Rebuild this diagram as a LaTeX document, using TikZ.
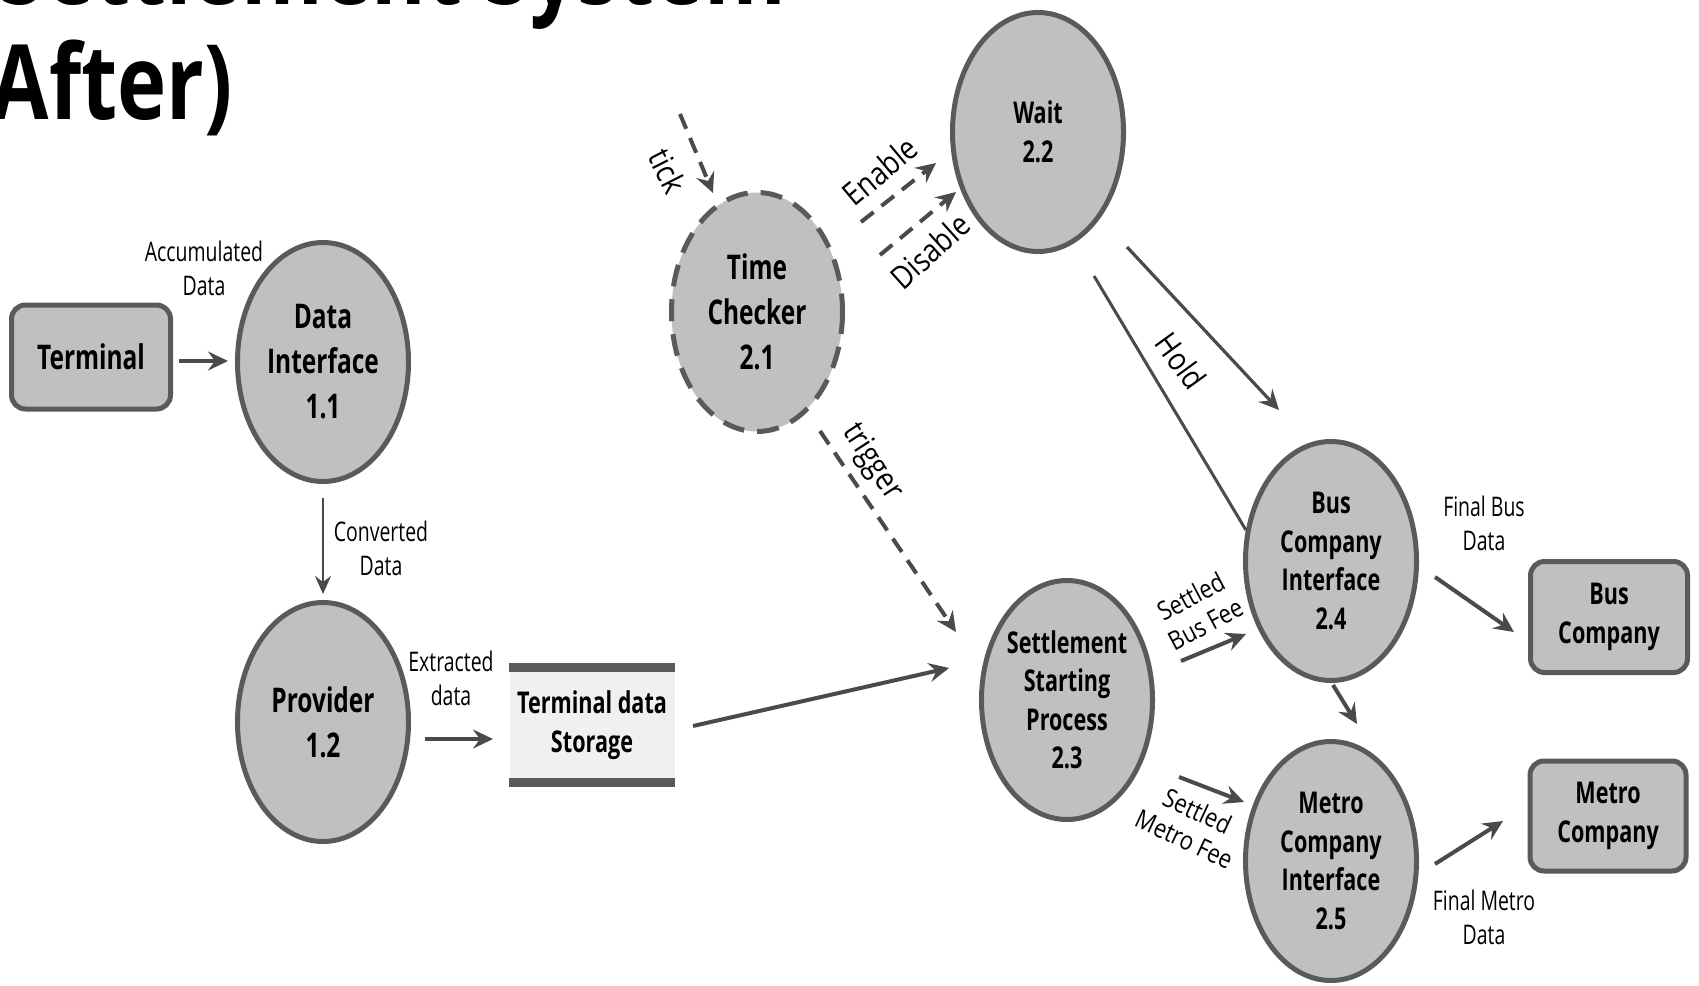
\documentclass[tikz,border=0pt]{standalone}
\usepackage{fontspec}
\setmainfont{Open Sans}[FakeStretch=0.72]
\newfontfamily\rotfont{Open Sans}[FakeStretch=0.85]
\newfontfamily\titlefont{Open Sans}[FakeStretch=0.80]
\usetikzlibrary{shapes.geometric,arrows.meta}
\definecolor{fillg}{HTML}{C0C0C0}
\definecolor{edgeg}{HTML}{5A5A5A}
\definecolor{arrg}{HTML}{4A4A4A}
\definecolor{storeg}{HTML}{F0F0F0}
\tikzset{
  proc/.style={ellipse, draw=edgeg, line width=5pt, fill=fillg, minimum width=171pt, minimum height=239pt, inner sep=0pt, align=center, text=black},
  bigtxt/.style={font=\bfseries\fontsize{34}{45}\selectfont},
  smalltxt/.style={font=\bfseries\fontsize{30}{38.5}\selectfont},
  extbox/.style={rectangle, rounded corners=14pt, draw=edgeg, line width=5pt, fill=fillg, inner sep=0pt, align=center},
  lbl/.style={font=\fontsize{27}{34}\selectfont, align=center, inner sep=0pt},
  rlbl/.style={font=\rotfont\fontsize{32}{38}\selectfont, align=center, inner sep=0pt},
  slbl/.style={font=\rotfont\fontsize{26}{31}\selectfont, align=center, inner sep=0pt},
  ttl/.style={anchor=base east, inner sep=0pt, font=\titlefont\bfseries\fontsize{104}{114}\selectfont},
  flow/.style={draw=arrg, line width=4pt, -{Stealth[length=20pt,width=19pt,inset=7pt]}},
  thinflow/.style={draw=arrg, line width=2.8pt, -{Stealth[length=18pt,width=16pt,inset=6pt]}},
  dflow/.style={flow, dash pattern=on 16pt off 10pt},
  plainline/.style={draw=arrg, line width=3pt},
  bar/.style={draw=edgeg, line width=9pt}
}
\begin{document}
\begin{tikzpicture}[x=1pt,y=-1pt]
\useasboundingbox (0,0) rectangle (1699,985);
% title (cropped by the page edge)
\node[ttl] (title1) at (786,5) {Settlement System};
\node[ttl] (title2) at (233,119) {(After)};

% external entities
\node[extbox, bigtxt, minimum width=159pt, minimum height=104pt] (term) at (91,357) {Terminal};
\node[extbox, smalltxt, minimum width=157pt, minimum height=111pt] (busco) at (1609,617) {Bus\\Company};
\node[extbox, smalltxt, minimum width=156pt, minimum height=110pt] (metroco) at (1608,816) {Metro\\Company};

% processes
\node[proc, bigtxt] (di) at (323,362) {Data\\Interface\\1.1};
\node[proc, bigtxt] (prov) at (323,722) {Provider\\1.2};
\node[proc, bigtxt, draw=none] (tc) at (757,312) {Time\\Checker\\2.1};
\draw[edgeg, line width=5pt, dash pattern=on 22pt off 13pt] (tc.center) ellipse [x radius=85.5, y radius=119.5];
\node[proc, smalltxt] (wait) at (1038,132) {Wait\\2.2};
\node[proc, smalltxt] (ssp) at (1067,700) {Settlement\\Starting\\Process\\2.3};
\node[proc, smalltxt] (bci) at (1331,561) {Bus\\Company\\Interface\\2.4};
\node[proc, smalltxt] (mci) at (1331,861) {Metro\\Company\\Interface\\2.5};

% data store
\node[fill=storeg, minimum width=165pt, minimum height=115pt, inner sep=0pt, smalltxt, align=center] (sto) at (592,725) {Terminal data\\Storage};
\draw[bar] (sto.north west) -- (sto.north east);
\draw[bar] (sto.south west) -- (sto.south east);

% labels
\node[lbl] (lacc) at (204,268) {Accumulated\\Data};
\node[lbl] (lconv) at (381,548) {Converted\\Data};
\node[lbl] (lext) at (451,678) {Extracted\\data};
\node[lbl] (lfbus) at (1484,523) {Final Bus\\Data};
\node[lbl] (lfmet) at (1484,917) {Final Metro\\Data};
\node[rlbl, rotate=-63] (ltick) at (668,171) {tick};
\node[rlbl, rotate=40] (lenable) at (880,171) {Enable};
\node[rlbl, rotate=42] (ldisable) at (930,251) {Disable};
\node[rlbl, rotate=-57] (ltrigger) at (872,462) {trigger};
\node[rlbl, rotate=-54] (lhold) at (1181,361) {Hold};
\node[slbl, rotate=28] (lsbf) at (1198,610) {Settled\\Bus Fee};
\node[slbl, rotate=-25] (lsmf) at (1191,825) {Settled\\Metro Fee};

% connector end points
\coordinate (a1s) at (179,361); \coordinate (a1e) at (228,361);
\coordinate (a2s) at (323,498); \coordinate (a2e) at (323,594);
\coordinate (a3s) at (425,739); \coordinate (a3e) at (493,739);
\coordinate (a4s) at (693,726); \coordinate (a4e) at (949,668);
\coordinate (a5s) at (680,114); \coordinate (a5e) at (713,193);
\coordinate (a6s) at (861,222); \coordinate (a6e) at (936,163);
\coordinate (a7s) at (880,255); \coordinate (a7e) at (956,192);
\coordinate (a8s) at (820,431); \coordinate (a8e) at (956,632);
\coordinate (hs) at (1094,276);
\coordinate (a9s) at (1127,247); \coordinate (a9e) at (1279,410);
\coordinate (a10s) at (1181,661); \coordinate (a10e) at (1246,634);
\coordinate (a11s) at (1179,777); \coordinate (a11e) at (1244,802);
\coordinate (a12s) at (1333,685); \coordinate (a12e) at (1357,724);
\coordinate (a13s) at (1435,577); \coordinate (a13e) at (1514,632);
\coordinate (a14s) at (1435,864); \coordinate (a14e) at (1503,821);

% connectors
\draw[flow] (a1s) -- (a1e);
\draw[thinflow] (a2s) -- (a2e);
\draw[flow] (a3s) -- (a3e);
\draw[flow] (a4s) -- (a4e);
\draw[dflow] (a5s) -- (a5e);
\draw[dflow] (a6s) -- (a6e);
\draw[dflow] (a7s) -- (a7e);
\draw[dflow] (a8s) -- (a8e);
\draw[plainline] (hs) -- (bci.160);
\draw[flow, line width=3.2pt] (a9s) -- (a9e);
\draw[flow] (a10s) -- (a10e);
\draw[flow] (a11s) -- (a11e);
\draw[flow] (a12s) -- (a12e);
\draw[flow] (a13s) -- (a13e);
\draw[flow] (a14s) -- (a14e);
\end{tikzpicture}
\end{document}
